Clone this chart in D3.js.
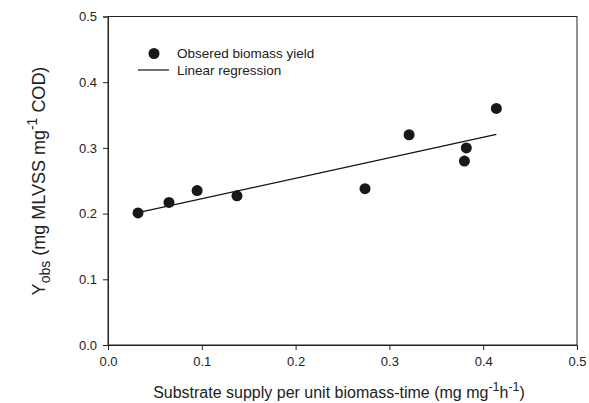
<!DOCTYPE html>
<html>
<head>
<meta charset="utf-8">
<script src="https://cdn.jsdelivr.net/npm/d3@7"></script>
<style>
  html, body { margin: 0; padding: 0; background: #fff; }
  svg { display: block; font-family: "Liberation Sans", Arial, sans-serif; }
</style>
</head>
<body>
<svg id="chart" width="589" height="403"></svg>
<script>
// Substrate supply per unit biomass-time (mg mg-1 h-1)
const supply = [0.032, 0.065, 0.095, 0.1375, 0.274, 0.321, 0.382, 0.380, 0.414];
// Observed biomass yield (mg MLVSS mg-1 COD)
const yieldObs = [0.201, 0.217, 0.235, 0.227, 0.238, 0.320, 0.300, 0.280, 0.360];
const xTicks = [0.0, 0.1, 0.2, 0.3, 0.4, 0.5];
const yTicks = [0.0, 0.1, 0.2, 0.3, 0.4, 0.5];
const legendLabels = ["Obsered biomass yield", "Linear regression"];

const svg = d3.select("#chart");
const m = { left: 108, right: 577, top: 16.5, bottom: 345 };

const x = d3.scaleLinear().domain([0, 0.5]).range([m.left, m.right]);
const y = d3.scaleLinear().domain([0, 0.5]).range([m.bottom, m.top]);

// frame
svg.append("rect")
  .attr("x", m.left).attr("y", m.top)
  .attr("width", m.right - m.left).attr("height", m.bottom - m.top)
  .attr("fill", "none").attr("stroke", "#222").attr("stroke-width", 1);

const fmt = d3.format(".1f");

const xAxis = svg.append("g")
  .attr("transform", `translate(0,${m.bottom})`)
  .call(d3.axisBottom(x).tickValues(xTicks).tickFormat(fmt).tickSize(5).tickPadding(6.5));
const yAxis = svg.append("g")
  .attr("transform", `translate(${m.left},0)`)
  .call(d3.axisLeft(y).tickValues(yTicks).tickFormat(fmt).tickSize(5).tickPadding(6));

[xAxis, yAxis].forEach(g => {
  g.select(".domain").attr("stroke", "#222");
  g.selectAll(".tick line").attr("stroke", "#222");
  g.selectAll(".tick text").attr("fill", "#222")
    .style("font-size", "13px").style("font-family", "Liberation Sans, Arial, sans-serif");
});

// least-squares fit over the observed range
const n = supply.length;
const mx = d3.mean(supply), my = d3.mean(yieldObs);
let sxy = 0, sxx = 0;
for (let i = 0; i < n; i++) {
  sxy += (supply[i] - mx) * (yieldObs[i] - my);
  sxx += (supply[i] - mx) ** 2;
}
const slope = sxy / sxx, intercept = my - slope * mx;
const [x0, x1] = d3.extent(supply);
svg.append("line")
  .attr("x1", x(x0)).attr("y1", y(intercept + slope * x0))
  .attr("x2", x(x1)).attr("y2", y(intercept + slope * x1))
  .attr("stroke", "#111").attr("stroke-width", 1.2);

// observations
svg.append("g").selectAll("circle")
  .data(supply.map((v, i) => [v, yieldObs[i]]))
  .join("circle")
  .attr("cx", d => x(d[0])).attr("cy", d => y(d[1]))
  .attr("r", 5.5).attr("fill", "#1a1718");

// legend
const lg = svg.append("g");
lg.append("circle").attr("cx", 154).attr("cy", 53.5).attr("r", 5.5).attr("fill", "#1a1718");
lg.append("line").attr("x1", 138).attr("x2", 169).attr("y1", 70).attr("y2", 70)
  .attr("stroke", "#111").attr("stroke-width", 1.2);
lg.selectAll("text").data(legendLabels).join("text")
  .attr("x", 177).attr("y", (d, i) => 58 + i * 16.5)
  .attr("fill", "#222").style("font-size", "13.5px")
  .text(d => d);

// x title
const xt = svg.append("text")
  .attr("x", 339).attr("y", 398)
  .attr("text-anchor", "middle").attr("fill", "#222").style("font-size", "16px");
xt.append("tspan").text("Substrate supply per unit biomass-time (mg mg");
xt.append("tspan").attr("dy", -7).style("font-size", "12.5px").text("-1");
xt.append("tspan").attr("dy", 7).text("h");
xt.append("tspan").attr("dy", -7).style("font-size", "12.5px").text("-1");
xt.append("tspan").attr("dy", 7).text(")");

// y title
const yt = svg.append("text")
  .attr("transform", "translate(45,181) rotate(-90)")
  .attr("text-anchor", "middle").attr("fill", "#222").style("font-size", "18px");
yt.append("tspan").text("Y");
yt.append("tspan").attr("dy", 4.5).style("font-size", "14px").text("obs");
yt.append("tspan").attr("dy", -4.5).text(" (mg MLVSS mg");
yt.append("tspan").attr("dy", -8.5).style("font-size", "14px").text("-1");
yt.append("tspan").attr("dy", 8.5).text(" COD)");
</script>
</body>
</html>
